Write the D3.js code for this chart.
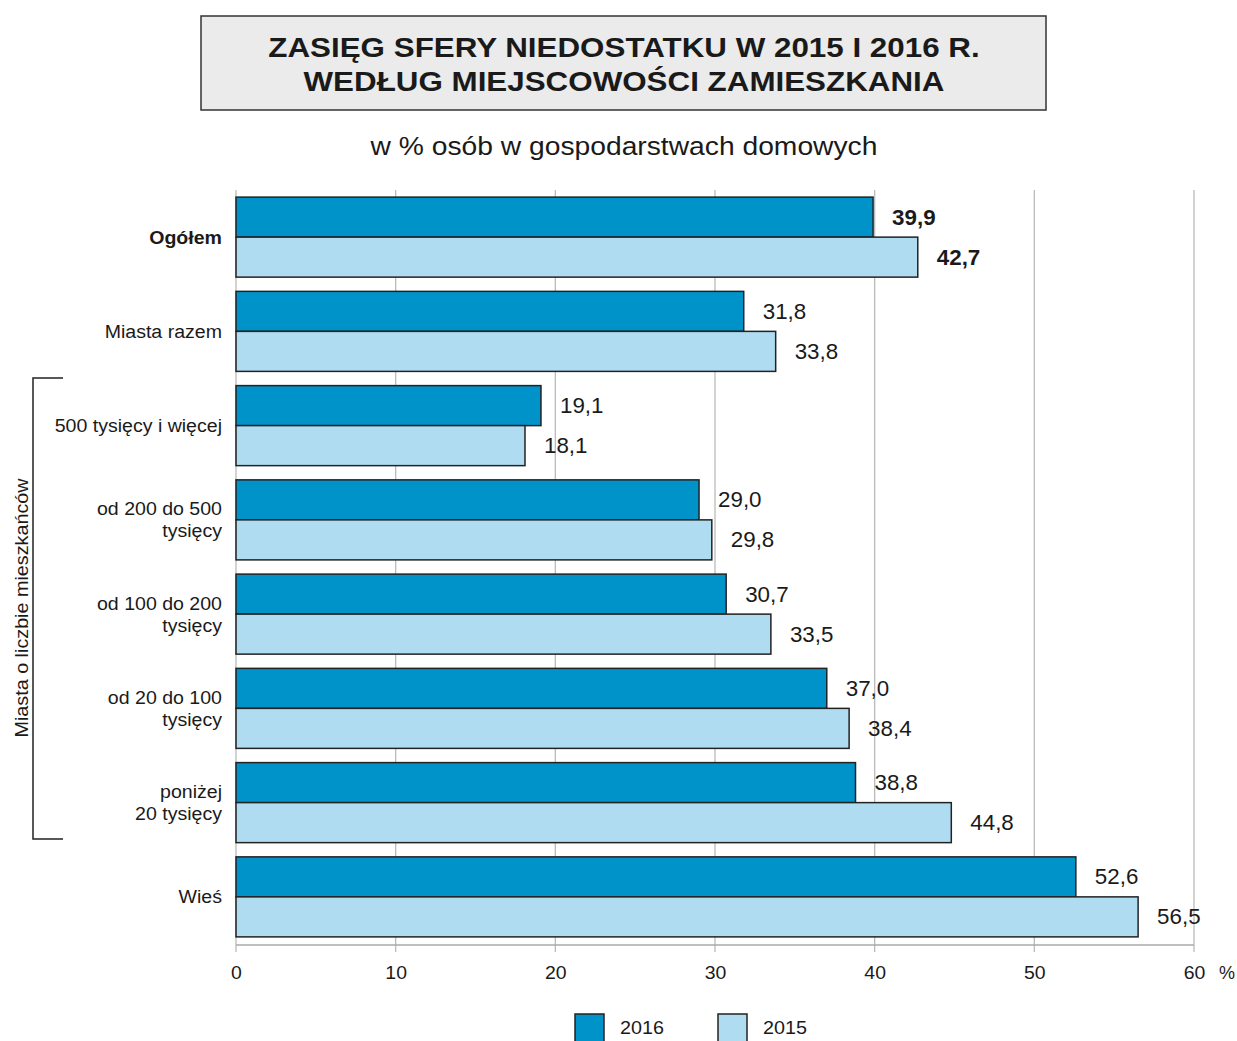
<!DOCTYPE html>
<html><head><meta charset="utf-8">
<script src="https://cdn.jsdelivr.net/npm/d3@7"></script>
<style>body{margin:0;background:#fff}svg{display:block;font-family:"Liberation Sans",Arial,sans-serif}</style>
</head><body><svg id="c" width="1237" height="1041"></svg>
<script>
const categories = ["Ogółem","Miasta razem","500 tysięcy i więcej","od 200 do 500\ntysięcy","od 100 do 200\ntysięcy","od 20 do 100\ntysięcy","poniżej\n20 tysięcy","Wieś"];
const values2016 = [39.9,31.8,19.1,29.0,30.7,37.0,38.8,52.6];
const values2015 = [42.7,33.8,18.1,29.8,33.5,38.4,44.8,56.5];
const seriesNames = ["2016","2015"];
const xTicks = [0,10,20,30,40,50,60];
const colors = {"2016":"#0093c9","2015":"#b0dcf2"};

const svg = d3.select("#c");
const x = d3.scaleLinear().domain([0,60]).range([236,1194]);
const y = d3.scaleBand().domain(categories).range([190,944]).paddingInner(0.151).paddingOuter(0.0755);
const sub = d3.scaleBand().domain(seriesNames).range([0,y.bandwidth()]);

// horizontal stretch helper: scale about anchor x
const hs = (ax, sx) => `translate(${ax},0) scale(${sx},1) translate(${-ax},0)`;

// title box
svg.append("rect").attr("x",201).attr("y",16).attr("width",845).attr("height",94)
  .attr("fill","#ebebeb").attr("stroke","#333").attr("stroke-width",1.5);
const tt = svg.append("text").attr("text-anchor","middle").attr("font-weight","bold").attr("font-size",28).attr("fill","#1a1a1a")
  .attr("transform",hs(624,1.12));
tt.append("tspan").attr("x",624).attr("y",57).text("ZASIĘG SFERY NIEDOSTATKU W 2015 I 2016 R.");
tt.append("tspan").attr("x",624).attr("y",91).text("WEDŁUG MIEJSCOWOŚCI ZAMIESZKANIA");
svg.append("text").attr("x",624).attr("y",155).attr("text-anchor","middle").attr("font-size",25).attr("fill","#1a1a1a")
  .attr("transform",hs(624,1.13))
  .text("w % osób w gospodarstwach domowych");

// grid
svg.append("g").selectAll("line").data(xTicks).join("line")
  .attr("x1",d=>x(d)).attr("x2",d=>x(d)).attr("y1",190).attr("y2",952)
  .attr("stroke","#bbb").attr("stroke-width",1.3);
svg.append("line").attr("x1",236).attr("x2",1194).attr("y1",945).attr("y2",945).attr("stroke","#aaa").attr("stroke-width",1.3);

// axis labels
const ax = svg.append("g").attr("transform","translate(0,945)")
  .call(d3.axisBottom(x).tickValues(xTicks).tickSize(0).tickPadding(21));
ax.select(".domain").remove();
ax.selectAll(".tick text").attr("font-size",18).attr("fill","#1a1a1a").attr("font-family","Liberation Sans, Arial, sans-serif")
  .attr("transform","scale(1.08,1)");
svg.append("text").attr("x",1227).attr("y",979).attr("text-anchor","middle").attr("font-size",18).attr("fill","#1a1a1a").text("%");

// bars
const data = [];
categories.forEach((c,i)=>{
  data.push({c,s:"2016",v:values2016[i],i});
  data.push({c,s:"2015",v:values2015[i],i});
});
svg.append("g").selectAll("rect").data(data).join("rect")
  .attr("x",x(0)).attr("y",d=>y(d.c)+sub(d.s)).attr("width",d=>x(d.v)-x(0)).attr("height",sub.bandwidth())
  .attr("fill",d=>colors[d.s]).attr("stroke","#222").attr("stroke-width",1.5);

svg.append("g").selectAll("text").data(data).join("text")
  .attr("x",d=>x(d.v)+19).attr("y",d=>y(d.c)+sub(d.s)+sub.bandwidth()/2+7.5)
  .attr("transform",d=>hs(x(d.v)+19,1.04))
  .attr("font-size",21.5).attr("fill","#1a1a1a").attr("font-weight",d=>d.i===0?"bold":"normal")
  .text(d=>d.v.toFixed(1).replace(".",","));

// category labels
const cl = svg.append("g").selectAll("text").data(categories).join("text")
  .attr("text-anchor","end").attr("font-size",19).attr("fill","#1a1a1a")
  .attr("transform",hs(222,1.03))
  .attr("font-weight",(d,i)=>i===0?"bold":"normal");
cl.each(function(d){
  const lines = d.split("\n");
  const cy = y(d)+y.bandwidth()/2;
  const sel = d3.select(this);
  lines.forEach((l,k)=>{
    sel.append("tspan").attr("x",222).attr("y",cy+6.5+(k-(lines.length-1)/2)*22).text(l);
  });
});

// bracket
svg.append("path").attr("d","M63,378 H33 V839 H63").attr("fill","none").attr("stroke","#222").attr("stroke-width",1.5);
svg.append("text").attr("transform","translate(28,608) rotate(-90) scale(1.04,1)").attr("text-anchor","middle").attr("font-size",19).attr("fill","#1a1a1a")
  .text("Miasta o liczbie mieszkańców");

// legend
const lg = svg.append("g").selectAll("g").data(seriesNames).join("g")
  .attr("transform",(d,i)=>`translate(${575+i*143},1014)`);
lg.append("rect").attr("width",29).attr("height",30).attr("fill",d=>colors[d]).attr("stroke","#222").attr("stroke-width",1.5);
lg.append("text").attr("x",45).attr("y",20.5).attr("font-size",19).attr("fill","#1a1a1a")
  .attr("transform",hs(45,1.04)).text(d=>d);
</script></body></html>
